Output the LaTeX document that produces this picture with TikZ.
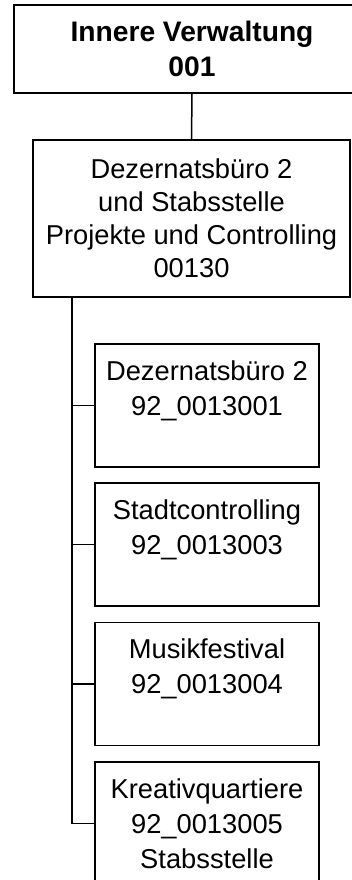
\documentclass[tikz,border=0pt]{standalone}
\usepackage{fontspec}
\setmainfont{Liberation Sans}
\begin{document}
\begin{tikzpicture}[x=1pt,y=-1pt,
  box/.style={draw=black, line width=1.5pt, align=center, inner sep=0pt, text=black},
  topbox/.style={box, minimum width=356pt, minimum height=88pt, font=\bfseries\fontsize{28.2}{34.5}\selectfont},
  midbox/.style={box, minimum width=317pt, minimum height=157pt, font=\fontsize{27.3}{33}\selectfont},
  childbox/.style={box, minimum width=224pt, minimum height=123pt, font=\fontsize{27.3}{35}\selectfont},
  conn/.style={draw=black, line width=1.5pt}]
\useasboundingbox (0,0) rectangle (352,880);
\clip (0,0) rectangle (352,880);
\node[topbox] (top) at (192,49) {Innere Verwaltung\\001};
\node[midbox] (mid) at (191.5,218.5) {Dezernatsbüro 2\\und Stabsstelle\\Projekte und Controlling\\00130};
\node[childbox] (c1) at (207,405.5) {Dezernatsbüro 2\\92\_0013001\\~};
\node[childbox] (c2) at (207,544.5) {Stadtcontrolling\\92\_0013003\\~};
\node[childbox] (c3) at (207,684) {Musikfestival\\92\_0013004\\~};
\node[childbox] (c4) at (207,823.5) {Kreativquartiere\\92\_0013005\\Stabsstelle};
\coordinate (sp) at (72,297);
\draw[conn] (top.south) -- (mid.north);
\draw[conn] (sp) |- (c4.west);
\draw[conn] (sp |- c1.west) -- (c1.west);
\draw[conn] (sp |- c2.west) -- (c2.west);
\draw[conn] (sp |- c3.west) -- (c3.west);
\end{tikzpicture}
\end{document}
